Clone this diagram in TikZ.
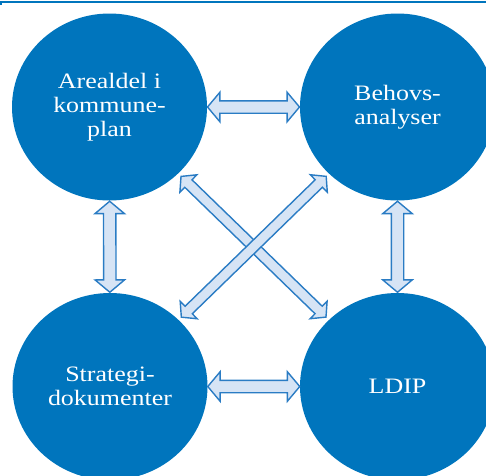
\documentclass[tikz,border=0pt]{standalone}
\usepackage{fontspec}
\setmainfont[FakeStretch=1.18]{Liberation Serif}
\usetikzlibrary{shapes.geometric,shapes.arrows}
\definecolor{circblue}{RGB}{0,117,189}
\definecolor{arrfill}{RGB}{214,228,245}
\definecolor{arrline}{RGB}{42,124,196}
\begin{document}
\begin{tikzpicture}[x=1pt,y=-1pt,
  bubble/.style={ellipse, fill=circblue, minimum width=195pt, minimum height=187pt,
    inner sep=0pt, text=white, align=center, font=\fontsize{22pt}{24pt}\selectfont},
  darrow/.style={double arrow, draw=arrline, fill=arrfill, line width=1.4pt,
    inner xsep=0pt, inner ysep=5.5pt, double arrow head extend=8.5pt,
    double arrow tip angle=100, double arrow head indent=0pt},
  xarrow/.style={darrow, inner ysep=4.5pt, double arrow head extend=7pt}
]
\clip (0,0) rectangle (486,475);
\fill[circblue] (0,1) rectangle (486,3.4);
\fill[circblue] (0,3.4) rectangle (2,4.6);
\node[bubble] (al) at (109.5,107) {Arealdel i\\kommune-\\plan};
\node[bubble] (ba) at (397.5,107) {Behovs-\\analyser};
\node[bubble] (sd) at (110,386.5) {Strategi-\\dokumenter};
\node[bubble] (ld) at (397.5,386.5) {LDIP};
\path (al) -- (ba) node[darrow, midway, sloped, minimum height=92pt] (a1) {};
\path (sd) -- (ld) node[darrow, midway, sloped, minimum height=92pt] (a2) {};
\path (al) -- (sd) node[darrow, midway, sloped, minimum height=91pt] (a3) {};
\path (ba) -- (ld) node[darrow, midway, sloped, minimum height=91pt] (a4) {};
\path (al) -- (ld) node[xarrow, midway, sloped, minimum height=202pt] (a5) {};
\path (ba) -- (sd) node[xarrow, midway, sloped, minimum height=202pt] (a6) {};
\end{tikzpicture}
\end{document}
